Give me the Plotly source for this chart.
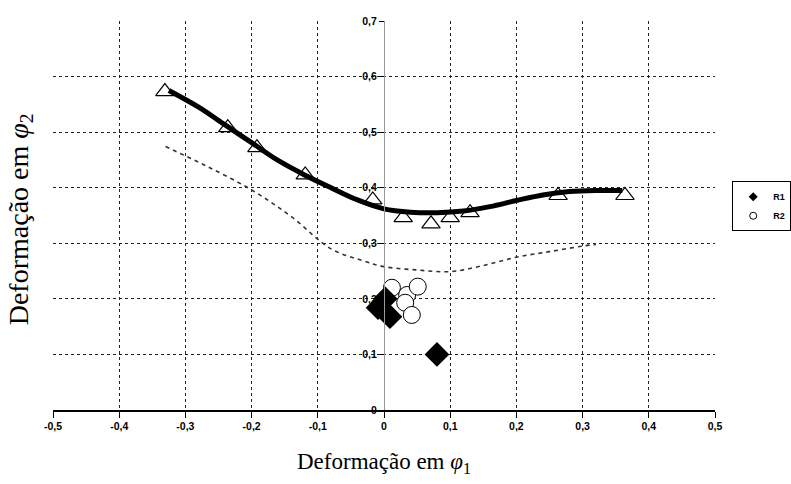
import plotly.graph_objects as go

# ---- data ----
tri_x = [-0.331, -0.236, -0.192, -0.119, -0.017, 0.029, 0.071, 0.100, 0.130, 0.263, 0.364]
tri_y = [0.573, 0.508, 0.472, 0.423, 0.378, 0.346, 0.335, 0.346, 0.355, 0.386, 0.386]

fit_x = [-0.325, -0.28, -0.24, -0.20, -0.16, -0.12, -0.08, -0.04, 0.0, 0.04, 0.08, 0.12,
         0.16, 0.20, 0.24, 0.28, 0.32, 0.36]
fit_y = [0.575, 0.545, 0.513, 0.481, 0.449, 0.423, 0.400, 0.378, 0.362, 0.356, 0.355, 0.358,
         0.366, 0.377, 0.387, 0.393, 0.395, 0.395]

dash_x = [-0.33, -0.27, -0.20, -0.14, -0.08, -0.03, 0.0, 0.05, 0.10, 0.15, 0.20, 0.25, 0.30, 0.32]
dash_y = [0.474, 0.440, 0.396, 0.348, 0.290, 0.268, 0.258, 0.252, 0.249, 0.260, 0.275, 0.285, 0.295, 0.298]

r1_x = [-0.009, 0.002, 0.009, 0.080]
r1_y = [0.184, 0.200, 0.168, 0.100]

r2_x = [0.012, 0.035, 0.051, 0.032, 0.042]
r2_y = [0.220, 0.207, 0.222, 0.193, 0.171]

x_ticks = [-0.5, -0.4, -0.3, -0.2, -0.1, 0, 0.1, 0.2, 0.3, 0.4, 0.5]
x_ticktext = ["-0,5", "-0,4", "-0,3", "-0,2", "-0,1", "0", "0,1", "0,2", "0,3", "0,4", "0,5"]
y_ticks = [0, 0.1, 0.2, 0.3, 0.4, 0.5, 0.6, 0.7]
y_ticktext = ["0", "0,1", "0,2", "0,3", "0,4", "0,5", "0,6", "0,7"]

fig = go.Figure()

fig.add_trace(go.Scatter(x=tri_x, y=tri_y, mode="markers", showlegend=False,
                         marker=dict(symbol="triangle-up", size=16, color="white",
                                     line=dict(color="black", width=1.2))))
fig.add_trace(go.Scatter(x=fit_x, y=fit_y, mode="lines", showlegend=False,
                         line=dict(color="black", width=5, shape="spline")))
fig.add_trace(go.Scatter(x=dash_x, y=dash_y, mode="lines", showlegend=False,
                         line=dict(color="#333", width=1.6, dash="4px,4px", shape="spline")))
fig.add_trace(go.Scatter(x=r2_x, y=r2_y, mode="markers", showlegend=False,
                         marker=dict(symbol="circle", size=17, color="white",
                                     line=dict(color="black", width=1))))
fig.add_trace(go.Scatter(x=r1_x, y=r1_y, mode="markers", showlegend=False,
                         marker=dict(symbol="diamond", size=19, color="black")))
# legend entries
fig.add_trace(go.Scatter(x=[None], y=[None], mode="markers", name="R1",
                         marker=dict(symbol="diamond", size=7, color="black")))
fig.add_trace(go.Scatter(x=[None], y=[None], mode="markers", name="R2",
                         marker=dict(symbol="circle-open", size=7, color="black",
                                     line=dict(width=1))))

tickfont = dict(family="Liberation Sans, Arial", size=10.5, color="black", weight="bold")

fig.update_layout(
    width=791, height=484,
    margin=dict(l=53, r=76, t=21, b=74, autoexpand=False),
    paper_bgcolor="white", plot_bgcolor="white",
    xaxis=dict(range=[-0.5, 0.5], tickvals=x_ticks, ticktext=x_ticktext,
               showgrid=True, gridcolor="#222", gridwidth=1.4, griddash="3px,3px",
               zeroline=False, showline=True, linecolor="black", linewidth=1.5,
               ticks="outside", ticklen=6, tickcolor="black", tickfont=tickfont),
    yaxis=dict(range=[0, 0.7], tickvals=y_ticks, ticktext=y_ticktext,
               anchor="free", position=0.5,
               showgrid=True, gridcolor="#222", gridwidth=1.4, griddash="3px,3px",
               zeroline=False, showline=True, linecolor="#999", linewidth=1,
               ticks="outside", ticklen=5, tickcolor="black", tickfont=tickfont),
    legend=dict(x=1.026, y=0.588, xanchor="left", yanchor="top",
                bordercolor="black", borderwidth=1, bgcolor="white",
                font=dict(family="Liberation Sans, Arial", size=9, color="black", weight="bold"),
                itemwidth=30, tracegroupgap=2),
    annotations=[
        dict(text="Deformação em <i>φ</i><sub>1</sub>", xref="paper", yref="paper",
             x=0.5, y=-0.135, xanchor="center", yanchor="middle", showarrow=False,
             font=dict(family="Liberation Serif, Times New Roman", size=23, color="black")),
        dict(text="Deformação em <i>φ</i><sub>2</sub>", xref="paper", yref="paper",
             x=-0.05, y=0.49, xanchor="center", yanchor="middle", showarrow=False, textangle=-90,
             font=dict(family="Liberation Serif, Times New Roman", size=28, color="black")),
    ],
)

fig.write_html("out.html")
